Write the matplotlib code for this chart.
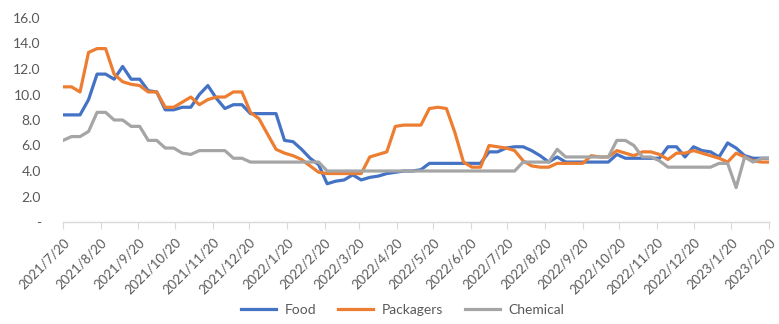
import numpy as np
import pandas as pd
import matplotlib
matplotlib.use("Agg")
import matplotlib.pyplot as plt

plt.rcParams["font.family"] = ["Lato", "DejaVu Sans"]

# weekly observations starting 2021/7/20
dates = pd.date_range("2021-07-20", periods=84, freq="7D")

food = [
    8.4, 8.4, 8.4, 9.6, 11.6, 11.6, 11.2, 12.2, 11.2, 11.2,
    10.3, 10.2, 8.8, 8.8, 9.0, 9.0, 10.0, 10.7, 9.7, 8.9,
    9.2, 9.2, 8.5, 8.5, 8.5, 8.5, 6.4, 6.3, 5.7, 5.0,
    4.5, 3.0, 3.2, 3.3, 3.7, 3.3, 3.5, 3.6, 3.8, 3.9,
    4.0, 4.0, 4.1, 4.6, 4.6, 4.6, 4.6, 4.6, 4.6, 4.6,
    5.5, 5.5, 5.8, 5.9, 5.9, 5.6, 5.2, 4.7, 5.1, 4.7,
    4.7, 4.7, 4.7, 4.7, 4.7, 5.3, 5.0, 5.0, 5.0, 5.0,
    5.0, 5.9, 5.9, 5.1, 5.9, 5.6, 5.5, 5.1, 6.2, 5.8,
    5.2, 5.0, 5.0, 5.0,
]
packagers = [
    10.6, 10.6, 10.2, 13.3, 13.6, 13.6, 11.6, 11.0, 10.8, 10.7,
    10.2, 10.2, 9.0, 9.0, 9.4, 9.8, 9.2, 9.6, 9.8, 9.8,
    10.2, 10.2, 8.6, 8.1, 6.9, 5.7, 5.4, 5.2, 4.9, 4.4,
    3.9, 3.8, 3.8, 3.8, 3.8, 3.8, 5.1, 5.3, 5.5, 7.5,
    7.6, 7.6, 7.6, 8.9, 9.0, 8.9, 7.0, 4.7, 4.3, 4.3,
    6.0, 5.9, 5.8, 5.6, 4.8, 4.4, 4.3, 4.3, 4.6, 4.6,
    4.6, 4.6, 5.2, 5.1, 5.1, 5.6, 5.4, 5.2, 5.5, 5.5,
    5.3, 4.9, 5.4, 5.4, 5.6, 5.4, 5.2, 5.0, 4.7, 5.4,
    5.1, 4.8, 4.7, 4.7,
]
chemical = [
    6.4, 6.7, 6.7, 7.1, 8.6, 8.6, 8.0, 8.0, 7.5, 7.5,
    6.4, 6.4, 5.8, 5.8, 5.4, 5.3, 5.6, 5.6, 5.6, 5.6,
    5.0, 5.0, 4.7, 4.7, 4.7, 4.7, 4.7, 4.7, 4.7, 4.7,
    4.7, 4.0, 4.0, 4.0, 4.0, 4.0, 4.0, 4.0, 4.0, 4.0,
    4.0, 4.0, 4.0, 4.0, 4.0, 4.0, 4.0, 4.0, 4.0, 4.0,
    4.0, 4.0, 4.0, 4.0, 4.7, 4.7, 4.7, 4.7, 5.7, 5.1,
    5.1, 5.1, 5.1, 5.1, 5.1, 6.4, 6.4, 6.0, 5.1, 5.1,
    4.8, 4.3, 4.3, 4.3, 4.3, 4.3, 4.3, 4.6, 4.6, 2.7,
    5.1, 4.7, 5.0, 5.0,
]

# month ticks on the 20th, 2021/7/20 .. 2023/2/20
tick_dates = pd.date_range("2021-07-01", "2023-02-01", freq="MS") + pd.Timedelta(days=19)
tick_labels = [f"{d.year}/{d.month}/{d.day}" for d in tick_dates]
y_ticks = [0, 2, 4, 6, 8, 10, 12, 14, 16]
y_labels = ["-"] + [f"{v:.1f}" for v in y_ticks[1:]]

fig = plt.figure(figsize=(7.79, 3.24), dpi=100)
ax = fig.add_axes([63 / 779, 102 / 324, 706 / 779, 204 / 324])

ax.plot(dates, food, color="#4472C4", linewidth=2.3, label="Food")
ax.plot(dates, packagers, color="#ED7D31", linewidth=2.3, label="Packagers")
ax.plot(dates, chemical, color="#A5A5A5", linewidth=2.3, label="Chemical")

ax.set_ylim(0, 16)
ax.set_xlim(tick_dates[0], tick_dates[-1])
ax.set_yticks(y_ticks)
ax.set_yticklabels(y_labels)
ax.set_xticks(tick_dates)
ax.set_xticklabels(tick_labels, rotation=45, ha="right", rotation_mode="anchor")

for s in ["top", "right", "left"]:
    ax.spines[s].set_visible(False)
ax.spines["bottom"].set_color("#D9D9D9")
ax.spines["bottom"].set_linewidth(1.0)
ax.tick_params(axis="y", length=0, labelsize=10, labelcolor="#595959", pad=16)
ax.tick_params(axis="x", length=5, color="#D9D9D9", labelsize=9.5, labelcolor="#595959", pad=5)

ax.legend(loc="center", bbox_to_anchor=(0.517, 0.043), bbox_transform=fig.transFigure,
          ncol=3, frameon=False, fontsize=10, labelcolor="#595959",
          handlelength=2.5, handletextpad=0.6, columnspacing=1.6)

fig.savefig("out.png", dpi=100)
